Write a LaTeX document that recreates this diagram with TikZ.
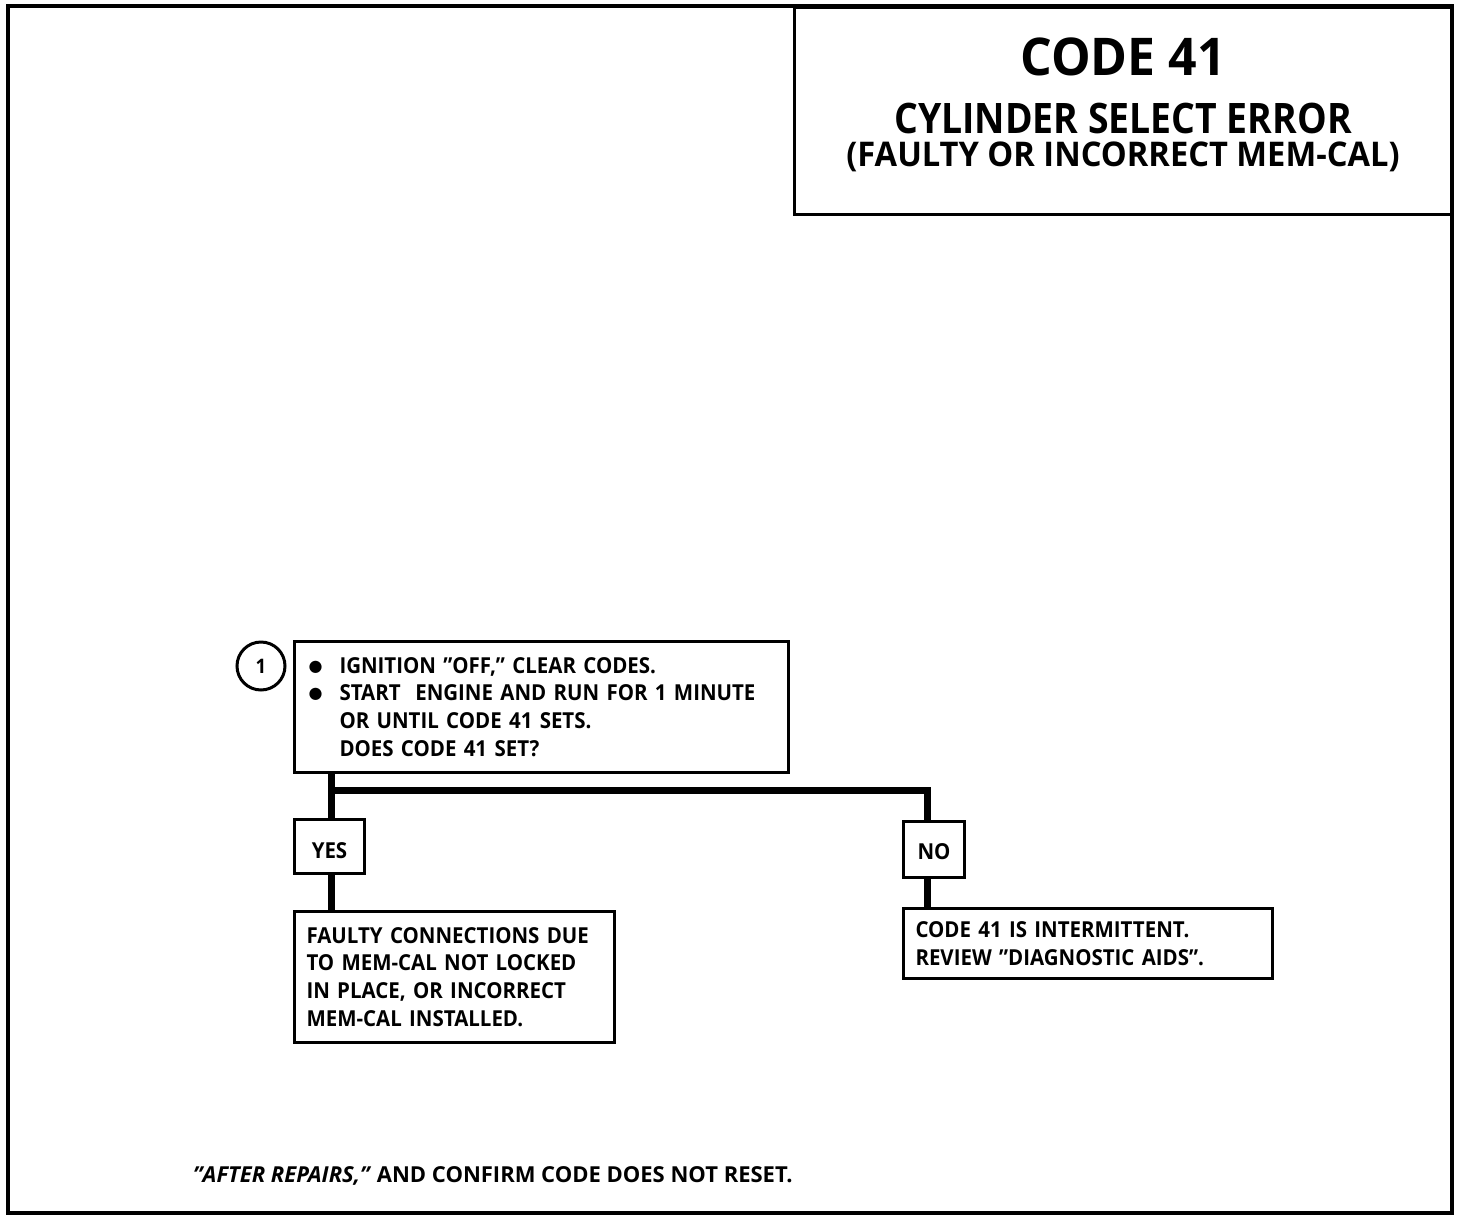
\documentclass[tikz,border=0pt]{standalone}
\usepackage{fontspec}
\setmainfont{Open Sans}[FakeStretch=0.93]
\newfontfamily\titleA{Open Sans}[FakeStretch=0.96]
\newfontfamily\titleB{Open Sans}[FakeStretch=0.89]
\newfontfamily\titleC{Open Sans}[FakeStretch=0.96]
\newfontfamily\footfont{Open Sans}
\newfontfamily\dejavu{DejaVu Sans}
\newcommand{\bulletmark}{\makebox[31pt][l]{\raisebox{2pt}{\fontsize{16}{16}\dejavu ●}}}
\begin{document}
\begin{tikzpicture}[x=1pt,y=-1pt,
  box/.style={draw,line width=3pt,inner sep=0pt,anchor=north west},
  conn/.style={line width=7pt},
  body/.style={font=\fontsize{22}{27.7}\selectfont\bfseries}]
\useasboundingbox (0,0) rectangle (1472,1218);
\draw[line width=4pt] (8,6) rectangle (1452,1213);
\node[box, minimum width=657pt, minimum height=207pt] (title) at (793,6) {};
\node[font=\titleA\fontsize{52}{52}\selectfont\bfseries, anchor=base, inner sep=0pt] (code) at (title.north |- 0,75) {CODE 41};
\node[font=\titleB\fontsize{42}{42}\selectfont\bfseries, anchor=base, inner sep=0pt] (cse) at (title.north |- 0,133) {CYLINDER SELECT ERROR};
\node[font=\titleC\fontsize{34}{34}\selectfont\bfseries, anchor=base, inner sep=0pt] (fic) at (title.north |- 0,166) {(FAULTY OR INCORRECT MEM-CAL)};

\node[draw,circle,line width=3pt,minimum size=48pt,inner sep=0pt,font=\fontsize{20}{20}\selectfont\bfseries] (one) at (261,666) {1};

\node[box, body, minimum width=494pt, minimum height=131pt, inner xsep=14pt, text width=466pt, align=left] (q) at (293,640)
 {\bulletmark IGNITION ”OFF,” CLEAR CODES.\\
  \bulletmark START\ \ ENGINE AND RUN FOR 1 MINUTE\\
  \hspace*{31pt}OR UNTIL CODE 41 SETS.\\
  \hspace*{31pt}DOES CODE 41 SET?};

\node[box, body, minimum width=70pt, minimum height=54pt] (yes) at (293,818) {\raisebox{-12pt}[0pt][0pt]{YES}};
\node[box, body, minimum width=61pt, minimum height=56pt] (no) at (902,820) {\raisebox{-10pt}[0pt][0pt]{NO}};

\node[box, body, minimum width=320pt, minimum height=131pt, inner xsep=12pt, text width=296pt, align=left] (ry) at (293,910)
 {FAULTY CONNECTIONS DUE\\TO MEM-CAL NOT LOCKED\\IN PLACE, OR INCORRECT\\MEM-CAL INSTALLED.};
\node[box, body, minimum width=369pt, minimum height=70pt, inner xsep=12pt, text width=345pt, align=left] (rn) at (902,907)
 {CODE 41 IS INTERMITTENT.\\REVIEW ”DIAGNOSTIC AIDS”.};

\coordinate (jy) at (331,790);
\coordinate (jn) at (927,790);
\draw[conn] (q.south -| jy) -- (yes.north -| jy);
\draw[conn] (jy) -- (jn) -- (no.north -| jn);
\draw[conn] (yes.south -| jy) -- (ry.north -| jy);
\draw[conn] (no.south -| jn) -- (rn.north -| jn);

\node[body, anchor=base west, inner sep=0pt] (foot) at (193,1182) {\footfont\textit{”AFTER REPAIRS,”} AND CONFIRM CODE DOES NOT RESET.};
\end{tikzpicture}
\end{document}
